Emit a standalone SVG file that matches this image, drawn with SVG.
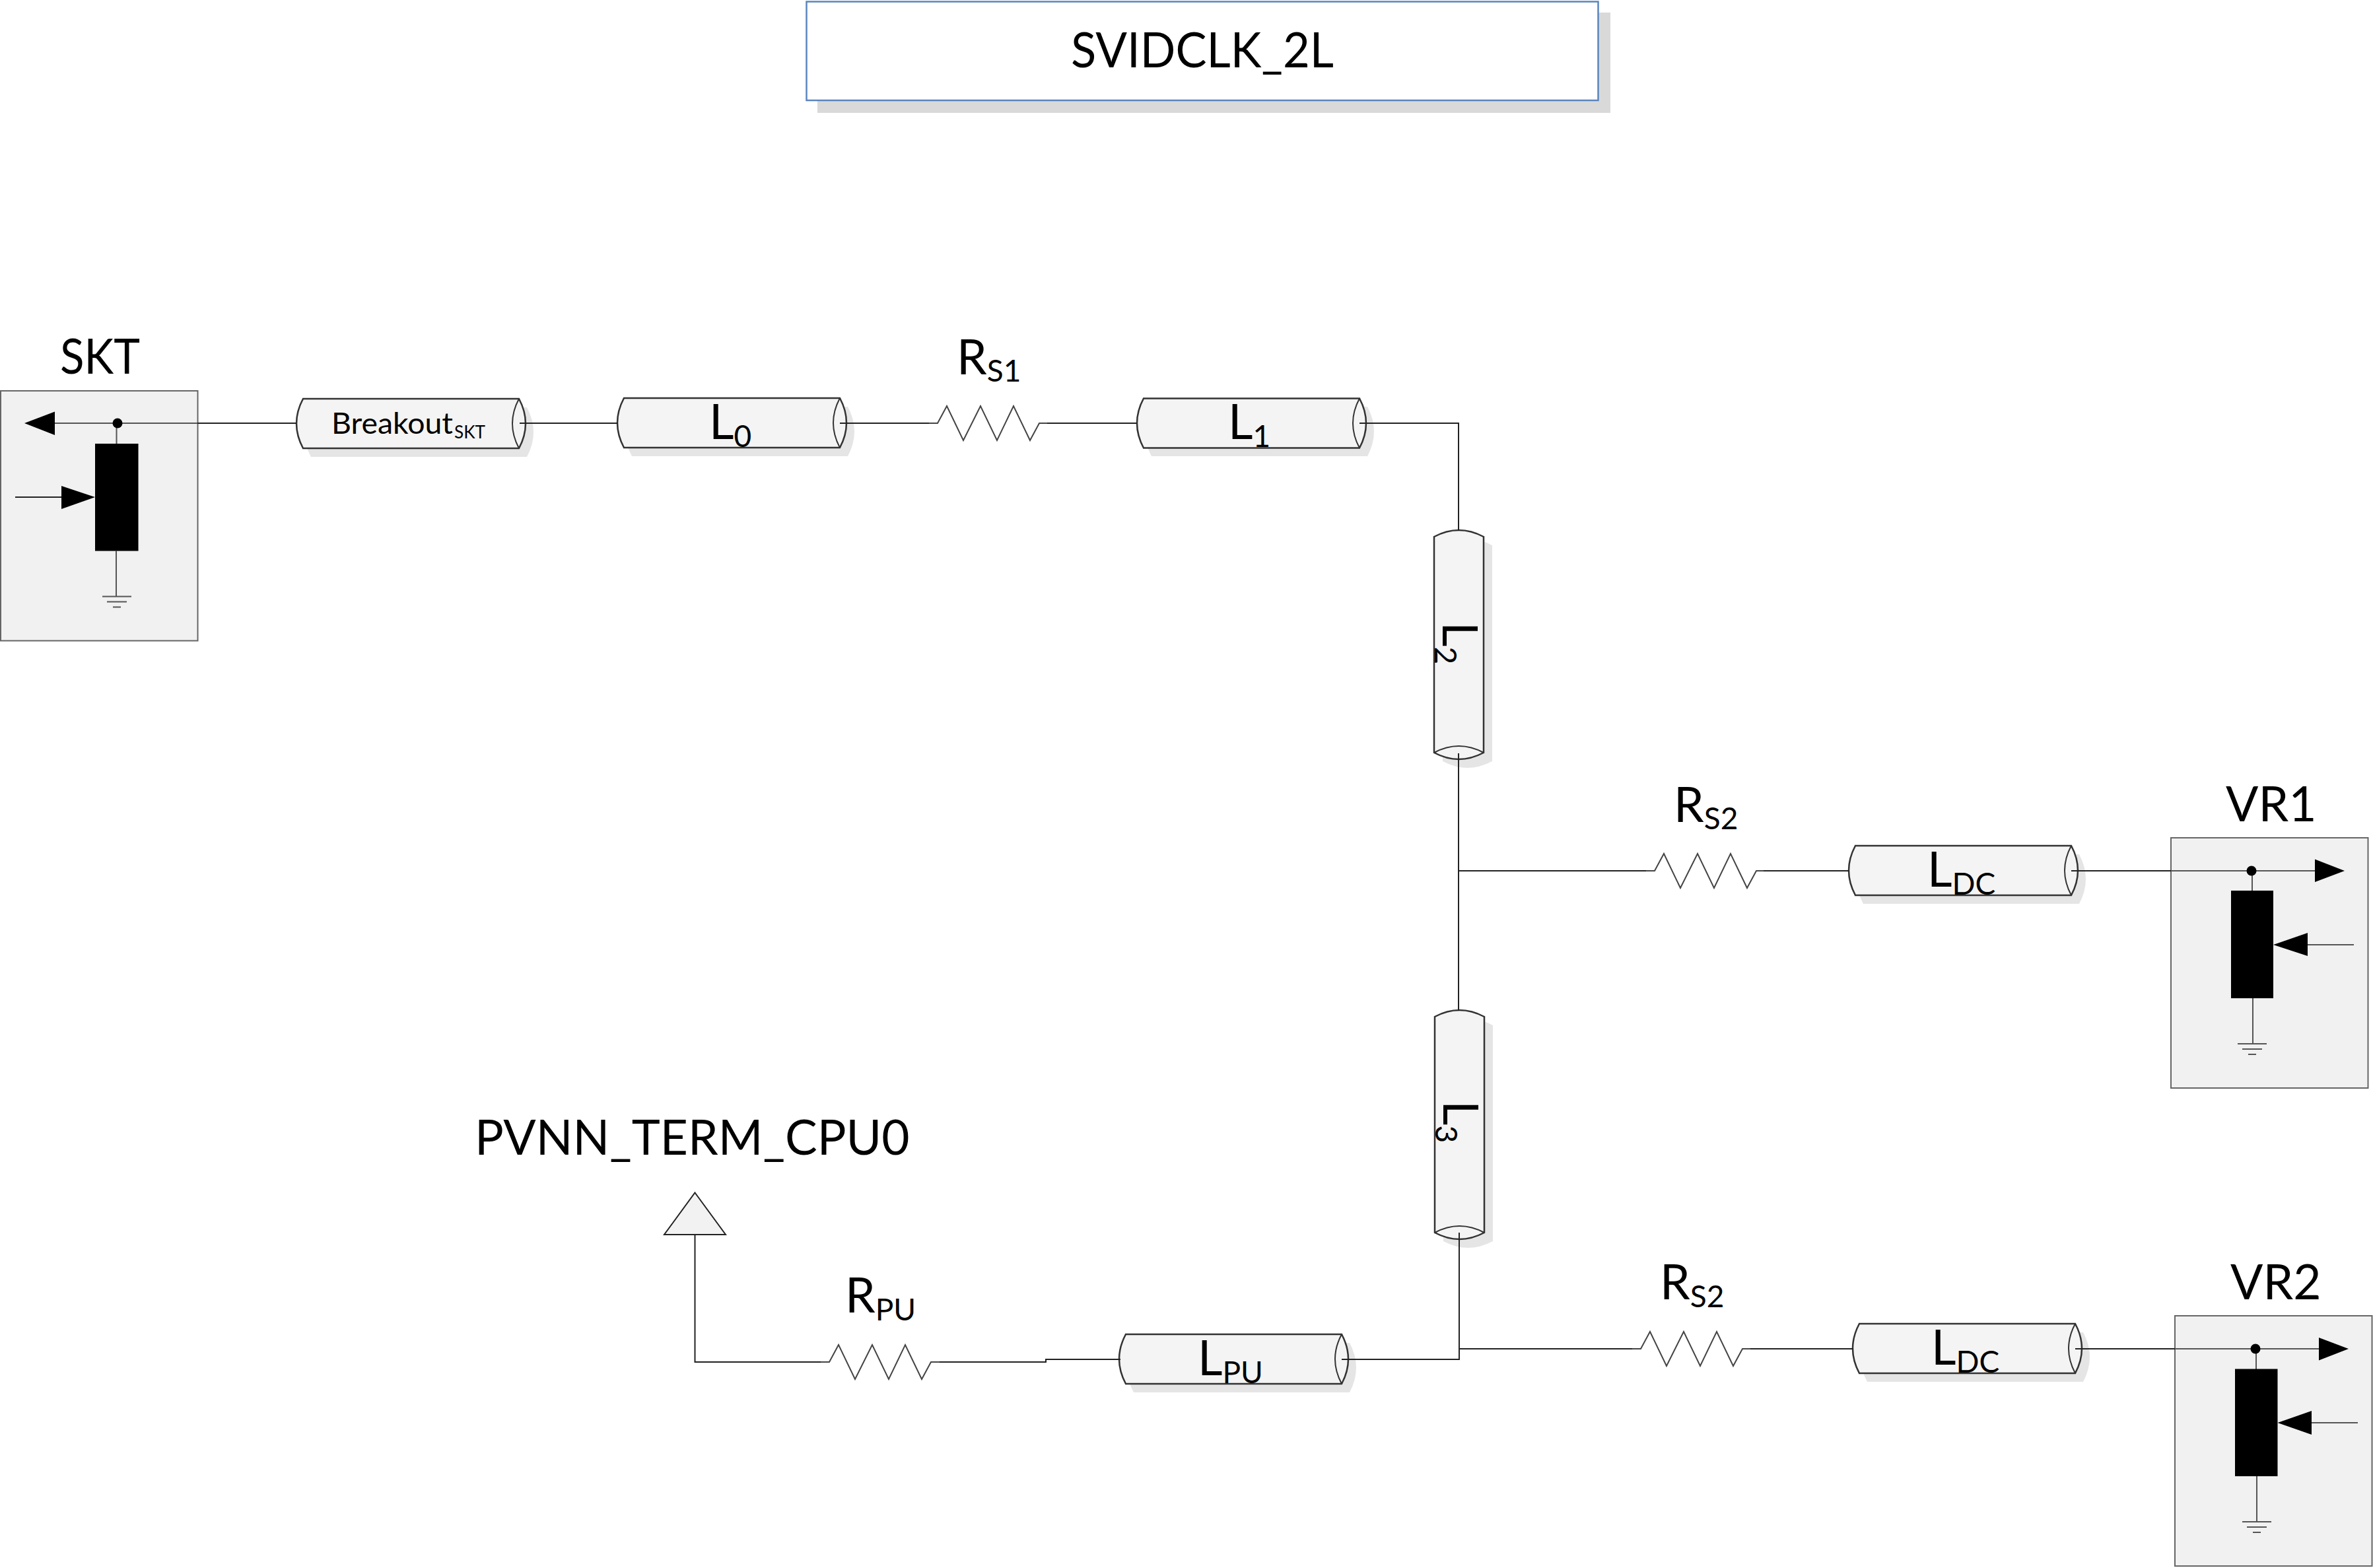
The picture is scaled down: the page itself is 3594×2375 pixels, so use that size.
<svg xmlns="http://www.w3.org/2000/svg" width="3594" height="2375" viewBox="0 0 3594 2375">
<style>
text{font-family:"Lato","Open Sans","Liberation Sans",sans-serif;fill:#000}
.t{font-size:73px}
.s{font-size:46px}
.bt{font-size:44px}
.bs{font-size:27px}
.w{stroke:#222;stroke-width:2;fill:none}
.g{stroke:#555;stroke-width:2;fill:none}
.shadow{fill:#e5e5e5;stroke:none}
.body{fill:#f4f4f4;stroke:#333;stroke-width:2.5}
.arc{fill:none;stroke:#333;stroke-width:2}
.box{fill:#f1f1f1;stroke:#666;stroke-width:2}
.res{fill:none;stroke:#444;stroke-width:2}
</style>
<defs>
<path id="cyl-outline" d="M0,0H327Q347,37.5 327,75H0Q-20,37.5 0,0Z"/>
<path id="cyl-arc" d="M327,0Q307,37.5 327,75"/>
<g id="cyl"><use href="#cyl-outline" class="body"/><use href="#cyl-arc" class="arc"/></g>
<polyline id="res" class="res" points="0,0 13,0 27,-26 52,26 78,-26 103,26 128,-26 153,26 167,0 180,0"/>
<g id="ground"><path class="g" d="M-22,0H22M-15,8H15M-6,16H6"/></g>
</defs>

<g id="title">
<rect x="1238" y="19" width="1201" height="152" fill="#d9d9d9"/>
<rect x="1221.5" y="2.5" width="1199" height="149.500" fill="#fff" stroke="#5b85bd" stroke-width="2.500"/>
<text class="t" x="1622" y="102" textLength="398" lengthAdjust="spacingAndGlyphs">SVIDCLK_2L</text>
</g>

<g id="skt">
<rect class="box" x="1" y="592" width="298.500" height="378.500"/>
<path class="g" d="M83,641H299M176.500,648V672"/>
<polygon points="37,641 83,623.500 83,659"/>
<circle cx="178" cy="641" r="7.500"/>
<rect x="144" y="672" width="65.500" height="162.500"/>
<path class="w" d="M23,753H93"/>
<polygon points="93,736 144,753 93,771"/>
<path class="g" d="M176,834V903"/>
<use href="#ground" x="177" y="903.500"/>
<text class="t" x="91" y="566" textLength="121" lengthAdjust="spacingAndGlyphs">SKT</text>
</g>

<g id="breakout">
<use href="#cyl-outline" class="shadow" x="471" y="617"/>
<use href="#cyl" x="459" y="604"/>
<text x="502" y="657" class="bt" textLength="184" lengthAdjust="spacingAndGlyphs">Breakout</text>
<text x="688" y="664" class="bs" textLength="47" lengthAdjust="spacingAndGlyphs">SKT</text>
</g>

<g id="l0">
<use href="#cyl-outline" class="shadow" x="957" y="616"/>
<use href="#cyl" x="945" y="603"/>
<text x="1074" y="665" class="t">L<tspan class="s" y="677">0</tspan></text>
</g>

<g id="rs1">
<use href="#res" x="1407" y="641"/>
<text x="1449" y="567" class="t">R<tspan class="s" y="578">S1</tspan></text>
</g>

<g id="l1">
<use href="#cyl-outline" class="shadow" x="1744" y="616"/>
<use href="#cyl" x="1732" y="603.500"/>
<text x="1860" y="665" class="t">L<tspan class="s" y="677">1</tspan></text>
</g>

<g id="l2">
<use href="#cyl-outline" class="shadow" transform="translate(2260,826) rotate(90)"/>
<use href="#cyl" transform="translate(2247,813) rotate(90)"/>
<text transform="translate(2185,942) rotate(90)" class="t">L<tspan class="s" dy="12">2</tspan></text>
</g>

<g id="l3">
<use href="#cyl-outline" class="shadow" transform="translate(2261,1553) rotate(90)"/>
<use href="#cyl" transform="translate(2248,1540) rotate(90)"/>
<text transform="translate(2186,1667) rotate(90)" class="t">L<tspan class="s" dy="12">3</tspan></text>
</g>

<g id="rs2a">
<use href="#res" x="2493" y="1319"/>
<text x="2535" y="1245" class="t">R<tspan class="s" y="1256">S2</tspan></text>
</g>

<g id="ldc1">
<use href="#cyl-outline" class="shadow" x="2822" y="1294"/>
<use href="#cyl" x="2810" y="1281"/>
<text x="2919" y="1343" class="t">L<tspan class="s" y="1355">DC</tspan></text>
</g>

<g id="vr1">
<rect class="box" x="3288" y="1269" width="298.500" height="379"/>
<path class="g" d="M3288,1319H3506M3411,1326V1349"/>
<polygon points="3551,1319 3506,1301.500 3506,1336"/>
<circle cx="3410" cy="1319" r="7.500"/>
<rect x="3379" y="1349" width="64" height="163"/>
<path class="g" d="M3495,1431H3565"/>
<polygon points="3443,1431 3495,1413 3495,1448"/>
<path class="g" d="M3412,1512V1581"/>
<use href="#ground" x="3411" y="1581"/>
<text class="t" x="3371" y="1244">VR1</text>
</g>

<g id="l-pu">
<use href="#cyl-outline" class="shadow" x="1717" y="2034"/>
<use href="#cyl" x="1705" y="2021"/>
<text x="1814" y="2083" class="t">L<tspan class="s" y="2095">PU</tspan></text>
</g>

<g id="rpu">
<use href="#res" x="1243" y="2063"/>
<text x="1280" y="1988" class="t">R<tspan class="s" y="2000">PU</tspan></text>
</g>

<g id="pvnn">
<polygon points="1052.500,1806.500 1099,1870 1006,1870" fill="#f2f2f2" stroke="#222" stroke-width="2"/>
<text class="t" x="719" y="1749">PVNN_TERM_CPU0</text>
</g>

<g id="rs2b">
<use href="#res" x="2472" y="2043"/>
<text x="2514" y="1968" class="t">R<tspan class="s" y="1980">S2</tspan></text>
</g>

<g id="ldc2">
<use href="#cyl-outline" class="shadow" x="2828" y="2018"/>
<use href="#cyl" x="2816" y="2005"/>
<text x="2925" y="2067" class="t">L<tspan class="s" y="2079">DC</tspan></text>
</g>

<g id="vr2">
<rect class="box" x="3294" y="1993" width="298.500" height="379"/>
<path class="g" d="M3294,2043H3512M3417,2050V2074"/>
<polygon points="3557,2043 3512,2026 3512,2060.500"/>
<circle cx="3416" cy="2043" r="7.500"/>
<rect x="3385" y="2073.500" width="64.500" height="162.500"/>
<path class="g" d="M3501,2155H3571"/>
<polygon points="3449.500,2155 3501,2137 3501,2173"/>
<path class="g" d="M3418,2236V2305"/>
<use href="#ground" x="3418" y="2305"/>
<text class="t" x="3378" y="1968">VR2</text>
</g>

<g id="connectors">
<path class="w" d="M299,641H449"/>
<path class="w" d="M787,641H936"/>
<path class="w" d="M1272,641H1407"/>
<path class="w" d="M1586,641H1722"/>
<path class="w" d="M2059,641H2209V804"/>
<path class="w" d="M2209,1141V1531"/>
<path class="w" d="M2209,1319H2493"/>
<path class="w" d="M2671,1319H2801"/>
<path class="w" d="M3137,1319H3288"/>
<path class="w" d="M2210,1867V2059H2032"/>
<path class="w" d="M2210,2043H2472"/>
<path class="w" d="M2651,2043H2807"/>
<path class="w" d="M3143,2043H3294"/>
<path class="w" d="M1697,2059H1584V2063H1423"/>
<path class="w" d="M1243,2063H1052.500V1870"/>
</g>
</svg>
